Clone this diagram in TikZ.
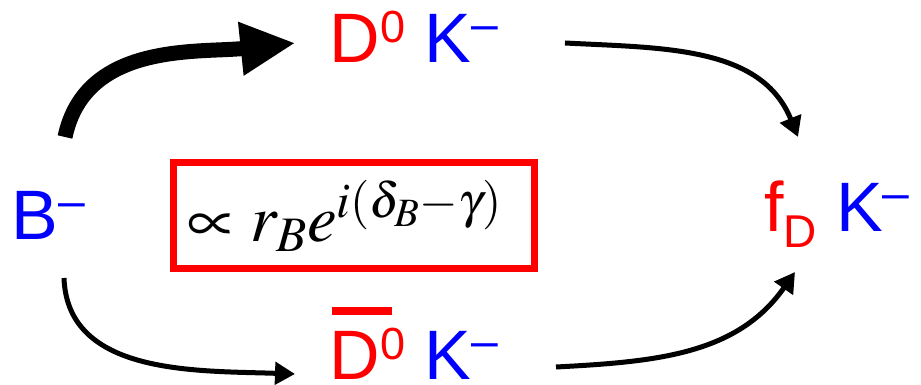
\documentclass[tikz,border=0pt]{standalone}
\usepackage{mathptmx}
\usepackage{fontspec}
\setmainfont{Liberation Sans}
\usetikzlibrary{arrows.meta,calc}
\definecolor{myred}{RGB}{255,0,0}
\definecolor{myblue}{RGB}{0,0,255}
\newcommand\mysupzero{\raisebox{20pt}{\fontsize{45}{45}\selectfont 0}}
\newcommand\myminus{\raisebox{22pt}{\fontsize{48}{48}\selectfont –}}
\newcommand\mysubD{\raisebox{-16pt}{\fontsize{46}{46}\selectfont D}}
\newcommand\mybar{\rlap{\hspace{2.5pt}\raisebox{65pt}{\rule{60pt}{8pt}}}}
\tikzset{
  lbl/.style={inner sep=0pt, outer sep=0pt, anchor=base west, font=\fontsize{70}{84}\selectfont},
  thinarrow/.style={line width=5pt, -{Triangle[length=20pt,width=22pt]}},
  thickarrow/.style={line width=15pt, -{Triangle[length=55pt,width=50pt]}},
  redbox/.style={draw=myred, line width=7pt, inner sep=0pt, minimum width=361pt, minimum height=105.5pt}
}
\begin{document}
\begin{tikzpicture}[x=1pt,y=1pt]
\useasboundingbox (0,0) rectangle (921,385);
\node[lbl] (B) at (12,145) {\color{myblue}B\myminus};
\node[lbl] (DK) at (329.5,322) {{\color{myred}D\mysupzero} {\color{myblue}K\myminus}};
\node[lbl] (DbK) at (329.5,5) {{\color{myred}\mybar D\mysupzero} {\color{myblue}K\myminus}};
\node[lbl] (fK) at (764,153) {{\color{myred}f\mysubD} {\color{myblue}K\myminus}};
\node[redbox] (box) at (354,169.25) {\fontsize{67}{80}\selectfont \raisebox{6pt}{$\propto r_B e^{i(\delta_B-\gamma)}$}\hspace*{18pt}};
\draw[thickarrow] ($(B.base west)+(53,103)$) to[out=78,in=186] ($(DK.base west)+(-34,20)$);
\draw[thinarrow] ($(DK.base west)+(235.5,20)$) to[out=-3,in=112] ($(fK.base west)+(34,95)$);
\draw[thinarrow] ($(B.base west)+(52,-38)$) to[out=-88,in=178] ($(DbK.base west)+(-34.5,6)$);
\draw[thinarrow] ($(DbK.base west)+(226.5,13)$) to[out=3,in=235] ($(fK.base west)+(31,-40)$);
\end{tikzpicture}
\end{document}
